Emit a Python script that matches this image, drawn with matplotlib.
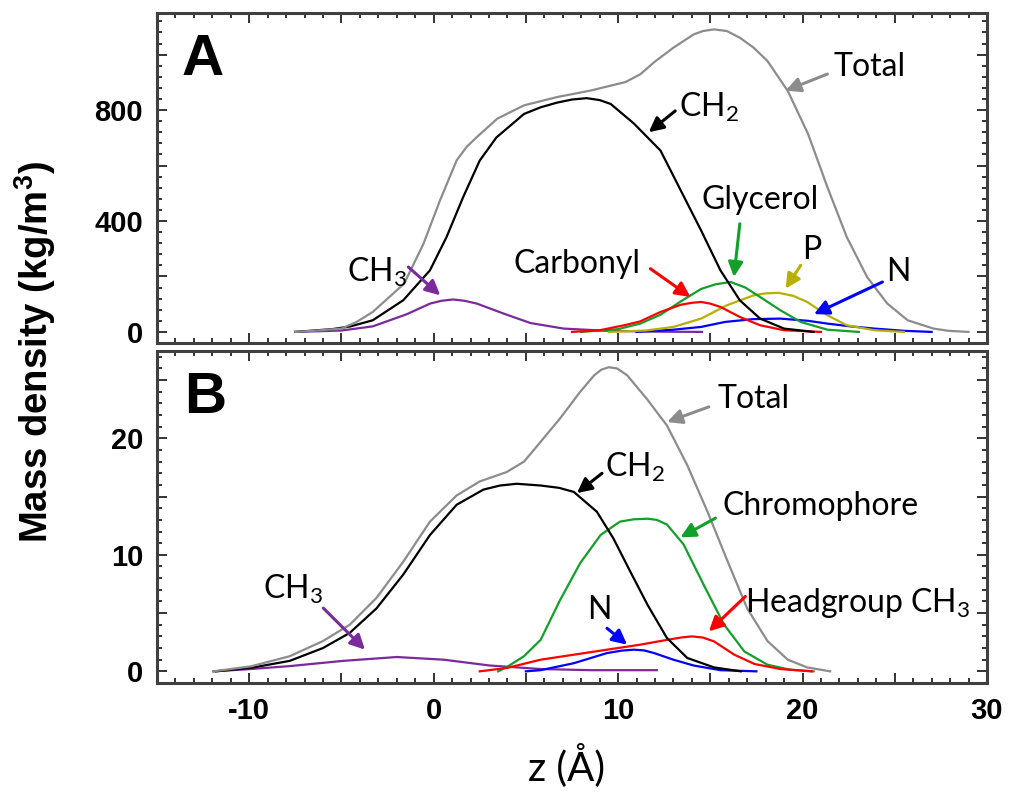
import matplotlib
matplotlib.use("Agg")
import matplotlib.pyplot as plt
from matplotlib.ticker import MultipleLocator, FuncFormatter

plt.rcParams['font.family'] = ['Liberation Sans', 'DejaVu Sans']
plt.rcParams['mathtext.default'] = 'regular'
plt.rcParams['axes.unicode_minus'] = False

# ---- panel A: lipid bilayer (kg/m^3) ----
zA_total = [-7.5, -6.5, -5.0, -4.2, -3.3, -1.6, -0.55, 0.35, 1.25, 1.8, 2.35, 3.45, 4.9, 6.7,
            8.55, 10.4, 11.2, 12.0, 13.0, 14.1, 14.6, 15.2, 15.9, 16.6, 17.35, 18.1, 19.2,
            20.3, 21.35, 22.4, 23.5, 24.6, 25.7, 27.1, 27.9, 29.0]
A_total = [0, 4, 12, 35, 72, 174, 318, 475, 619, 668, 703, 769, 817, 847,
           871, 901, 929, 975, 1025, 1073, 1085, 1091, 1085, 1061, 1025, 977, 869,
           714, 522, 342, 198, 102, 42, 12, 4, 0]

zA_ch2 = [-7.5, -5.5, -4.5, -3.3, -1.65, -0.2, 0.7, 1.6, 2.5, 3.4, 4.9, 5.8, 6.7, 7.5,
          8.3, 9.0, 9.6, 10.85, 12.3, 13.4, 14.5, 15.55, 16.6, 17.7, 19.0, 20.6]
A_ch2 = [0, 10, 20, 42, 114, 222, 342, 486, 618, 701, 786, 810, 827, 838,
         843, 836, 822, 752, 654, 510, 366, 222, 114, 48, 12, 0]

zA_ch3 = [-7.5, -5.0, -3.3, -1.45, -0.2, 0.4, 1.05, 1.7, 2.35, 3.8, 5.25, 7.05, 9.4, 12.0, 14.55]
A_ch3 = [0, 5, 20, 64, 102, 112, 117, 112, 102, 66, 32, 12, 4, 1, 0]

zA_carb = [7.5, 9.0, 10.4, 11.2, 12.3, 13.4, 14.0, 14.5, 15.0, 15.55, 16.6, 17.7, 19.0, 21.0]
A_carb = [0, 6, 25, 38, 72, 98, 105, 108, 102, 90, 54, 24, 6, 0]

zA_glyc = [8.0, 10.0, 11.2, 12.3, 13.4, 14.5, 15.3, 16.1, 16.9, 17.7, 18.8, 19.9, 21.35, 23.05]
A_glyc = [0, 10, 30, 62, 110, 155, 172, 180, 160, 126, 78, 36, 8, 0]

zA_p = [9.5, 11.5, 13.0, 14.5, 15.9, 17.35, 18.0, 18.7, 19.5, 20.25, 21.35, 22.4, 23.9, 25.5]
A_p = [0, 5, 18, 48, 96, 132, 139, 141, 130, 108, 60, 24, 6, 0]

zA_n = [11.0, 13.0, 14.5, 15.8, 17.3, 18.8, 20.3, 21.35, 22.6, 23.9, 25.5, 27.0]
A_n = [0, 8, 18, 36, 46, 48, 40, 30, 20, 12, 4, 0]

# ---- panel B: chromophore system ----
zB_total = [-11.95, -9.9, -7.8, -6.0, -4.55, -3.1, -1.65, -0.2, 1.25, 2.5, 3.95, 4.9, 5.8,
            6.85, 7.95, 8.7, 9.1, 9.5, 9.95, 10.5, 11.6, 12.65, 13.75, 14.85, 15.95, 17.0,
            18.1, 19.2, 20.25, 21.5]
B_total = [0, 0.43, 1.3, 2.6, 4.0, 6.3, 9.4, 12.85, 15.1, 16.3, 17.1, 18.0, 19.7,
           21.7, 24.0, 25.4, 25.9, 26.1, 26.0, 25.4, 23.3, 21.1, 17.7, 13.7, 9.4, 5.4,
           2.6, 1.0, 0.34, 0]

zB_ch2 = [-11.8, -9.9, -7.8, -6.0, -4.55, -3.1, -1.65, -0.2, 1.25, 2.7, 3.6, 4.5, 5.8,
          6.8, 7.6, 8.85, 9.75, 10.65, 11.6, 12.65, 13.75, 15.2, 16.65]
B_ch2 = [0, 0.3, 0.9, 2.0, 3.3, 5.4, 8.3, 11.7, 14.3, 15.6, 15.95, 16.1, 15.95,
         15.75, 15.4, 13.7, 11.4, 8.6, 5.7, 2.86, 1.15, 0.34, 0]

zB_ch3 = [-11.95, -9.9, -7.8, -4.9, -2.0, 0.55, 3.05, 5.8, 8.5, 12.1]
B_ch3 = [0, 0.2, 0.45, 0.9, 1.23, 1.0, 0.5, 0.2, 0.1, 0.1]

zB_chrom = [3.5, 4.0, 4.9, 5.8, 6.85, 7.95, 9.05, 10.1, 10.85, 11.6, 12.1, 12.65, 13.55,
            14.65, 15.75, 16.85, 18.1, 19.3, 20.6]
B_chrom = [0, 0.4, 1.3, 2.7, 6.1, 9.3, 11.7, 12.85, 13.05, 13.1, 13.0, 12.6, 10.9,
           7.4, 4.0, 1.7, 0.57, 0.15, 0]

zB_head = [2.5, 4.0, 5.8, 7.6, 9.4, 11.2, 12.65, 13.4, 14.0, 14.6, 15.2, 16.3, 17.4, 18.8, 20.5]
B_head = [0, 0.3, 1.0, 1.43, 1.86, 2.29, 2.7, 2.9, 3.0, 2.9, 2.57, 1.43, 0.63, 0.2, 0]

zB_n = [5.0, 5.8, 7.6, 9.4, 10.2, 10.85, 11.4, 11.95, 13.0, 14.1, 15.55, 17.5]
B_n = [0, 0.1, 0.7, 1.57, 1.78, 1.86, 1.8, 1.57, 1.0, 0.5, 0.1, 0]

GRAY = '#8c8c8c'
PURPLE = '#7b2a9b'
RED = '#ff0000'
GREEN = '#12a02a'
OLIVE = '#b8b000'
BLUE = '#0000ff'

LATO = ['Lato', 'DejaVu Sans']

fig = plt.figure(figsize=(10.1, 7.94), dpi=100)
axA = fig.add_axes([0.1554, 0.568, 0.8218, 0.4156])
axB = fig.add_axes([0.1554, 0.1398, 0.8218, 0.4182])

lw = 1.6
axA.plot(zA_ch3, A_ch3, color=PURPLE, lw=lw)
axA.plot(zA_n, A_n, color=BLUE, lw=lw)
axA.plot(zA_p, A_p, color=OLIVE, lw=lw)
axA.plot(zA_glyc, A_glyc, color=GREEN, lw=lw)
axA.plot(zA_carb, A_carb, color=RED, lw=lw)
axA.plot(zA_ch2, A_ch2, color='black', lw=lw)
axA.plot(zA_total, A_total, color=GRAY, lw=lw)

axB.plot(zB_ch3, B_ch3, color=PURPLE, lw=lw)
axB.plot(zB_n, B_n, color=BLUE, lw=lw)
axB.plot(zB_chrom, B_chrom, color=GREEN, lw=lw)
axB.plot(zB_head, B_head, color=RED, lw=lw)
axB.plot(zB_ch2, B_ch2, color='black', lw=lw)
axB.plot(zB_total, B_total, color=GRAY, lw=lw)

axA.set_ylim(-40, 1150)
axB.set_ylim(-1, 27.5)


def every(step):
    return FuncFormatter(lambda v, p: '%d' % round(v) if abs(v / step - round(v / step)) < 1e-6 else '')


for ax, ymaj, ymin, ylab in [(axA, 200, 40, 400), (axB, 5, 1, 10)]:
    ax.set_xlim(-15, 30)
    ax.xaxis.set_major_locator(MultipleLocator(5))
    ax.xaxis.set_minor_locator(MultipleLocator(1))
    ax.yaxis.set_major_locator(MultipleLocator(ymaj))
    ax.yaxis.set_minor_locator(MultipleLocator(ymin))
    ax.xaxis.set_major_formatter(every(10))
    ax.yaxis.set_major_formatter(every(ylab))
    ax.tick_params(which='both', direction='in', top=True, right=True, width=1.4, color='#333333')
    ax.tick_params(which='major', length=7, labelsize=21, pad=10)
    ax.tick_params(which='minor', length=3.5)
    for lab in ax.get_xticklabels() + ax.get_yticklabels():
        lab.set_fontweight('bold')
    for s in ax.spines.values():
        s.set_linewidth(2.2)
        s.set_color('#404040')

axA.tick_params(labelbottom=False)

arrow = dict(arrowstyle='-|>', lw=2.2, mutation_scale=22, shrinkA=0, shrinkB=0)


def label(ax, text, x, y, ha='left'):
    ax.text(x, y, text, fontsize=23, family=LATO, ha=ha, va='center')


# panel A notes
axA.text(-13.65, 981, 'A', fontsize=42, fontweight='bold', va='center')
label(axA, 'CH$_3$', -1.45, 215, ha='right')
axA.annotate('', xy=(0.36, 132), xytext=(-1.37, 234), arrowprops=dict(arrow, color=PURPLE))
label(axA, 'CH$_2$', 13.3, 810)
axA.annotate('', xy=(11.66, 720), xytext=(13.1, 797), arrowprops=dict(arrow, color='black'))
label(axA, 'Total', 21.7, 956)
axA.annotate('', xy=(19.08, 870), xytext=(21.35, 930), arrowprops=dict(arrow, color=GRAY))
label(axA, 'Glycerol', 17.7, 474, ha='center')
axA.annotate('', xy=(16.28, 198), xytext=(16.6, 390), arrowprops=dict(arrow, color=GREEN))
label(axA, 'Carbonyl', 7.8, 246, ha='center')
axA.annotate('', xy=(13.92, 126), xytext=(11.75, 228), arrowprops=dict(arrow, color=RED))
label(axA, 'P', 20.5, 294, ha='center')
axA.annotate('', xy=(19.08, 156), xytext=(19.9, 240), arrowprops=dict(arrow, color=OLIVE))
label(axA, 'N', 25.2, 215, ha='center')
axA.annotate('', xy=(20.62, 64), xytext=(24.33, 180), arrowprops=dict(arrow, color=BLUE))

# panel B notes
axB.text(-13.5, 23.5, 'B', fontsize=42, fontweight='bold', va='center')
label(axB, 'CH$_3$', -9.25, 7.0)
axB.annotate('', xy=(-3.72, 1.86), xytext=(-5.98, 5.43), arrowprops=dict(arrow, color=PURPLE))
label(axB, 'CH$_2$', 9.3, 17.5)
axB.annotate('', xy=(7.77, 15.3), xytext=(9.13, 17.0), arrowprops=dict(arrow, color='black'))
label(axB, 'Total', 15.37, 23.4)
axB.annotate('', xy=(12.66, 21.4), xytext=(14.92, 22.7), arrowprops=dict(arrow, color=GRAY))
label(axB, 'Chromophore', 15.66, 14.2)
axB.annotate('', xy=(13.38, 11.5), xytext=(15.28, 13.15), arrowprops=dict(arrow, color=GREEN))
label(axB, 'Headgroup CH$_3$', 16.9, 5.9)
axB.annotate('', xy=(14.92, 3.43), xytext=(16.9, 6.43), arrowprops=dict(arrow, color=RED))
label(axB, 'N', 9.0, 5.3, ha='center')
axB.annotate('', xy=(10.49, 2.29), xytext=(9.4, 3.7), arrowprops=dict(arrow, color=BLUE))

fig.text(35 / 1010, 1 - 352 / 794, 'Mass density (kg/m$^3$)', rotation=90, fontsize=27.5,
         fontweight='bold', ha='center', va='center')
fig.text(567 / 1010, 1 - 765 / 794, 'z (Å)', fontsize=29, family=LATO, ha='center', va='center')

fig.savefig('out.png', dpi=100)
